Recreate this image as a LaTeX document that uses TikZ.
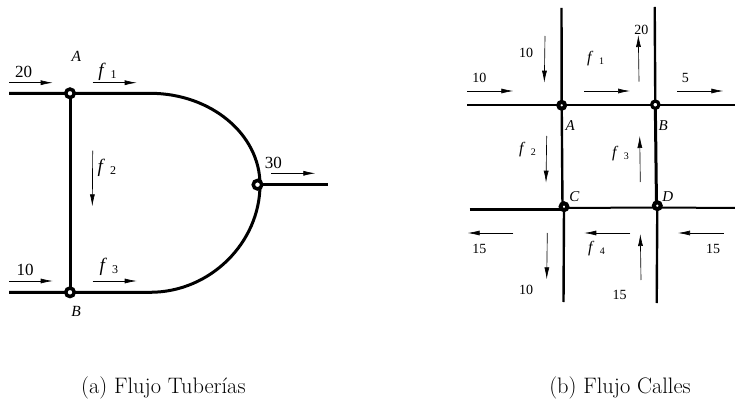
\documentclass[tikz,border=0pt]{standalone}
\usepackage{fontspec}
\setmainfont{Liberation Serif}
\newfontfamily\capfont{Latin Modern Roman}
\usetikzlibrary{arrows.meta}
\newcommand{\flabL}[1]{{\fontsize{19}{20}\selectfont\textit{f}}\hspace{5pt}\raisebox{-2pt}{\fontsize{12}{13}\selectfont #1}}
\newcommand{\flabR}[1]{{\fontsize{16}{17}\selectfont\textit{f}}\hspace{5.5pt}\raisebox{-1.8pt}{\fontsize{10}{11}\selectfont #1}}
\tikzset{
  pipe/.style={line width=3pt},
  street/.style={line width=2.4pt},
  flow/.style={line width=0.65pt,-{Latex[length=12pt,width=5pt]}},
  jopen/.style={circle,draw=black,fill=white,line width=3.5pt,minimum size=8.5pt,inner sep=0pt},
  jopenr/.style={circle,draw=black,fill=white,line width=3.2pt,minimum size=7.3pt,inner sep=0pt},
  jsolid/.style={circle,draw=black,fill=white,line width=4pt,minimum size=6.8pt,inner sep=0pt},
  lt/.style={font=\fontsize{17}{18}\selectfont,inner sep=0pt},
  lti/.style={font=\fontsize{15.5}{17}\selectfont\itshape,inner sep=0pt},
  rt/.style={font=\fontsize{14}{15}\selectfont,inner sep=0pt},
  rti/.style={font=\fontsize{15}{16}\selectfont\itshape,inner sep=0pt},
  flabel/.style={inner sep=0pt},
  captext/.style={font=\capfont\fontsize{22.4}{25}\selectfont,inner sep=0pt,anchor=base}
}
\begin{document}
\begin{tikzpicture}[x=1pt,y=-1pt]
\useasboundingbox (0,0) rectangle (735,403);
% --- left figure ---
\coordinate (l1) at (9,93.3);
\coordinate (l2) at (9,292.3);
\coordinate (p1) at (150,93.3);
\coordinate (p2) at (150,292.3);
\coordinate (e) at (328,184.7);
\coordinate (jc) at (260,184.7);
\draw[pipe] (l1) -- (p1) .. controls (210.8,93.3) and (260,134.2) .. (jc)
  .. controls (260,242) and (210.8,292.3) .. (p2) -- (l2);
\draw[pipe] (70,93.3) -- (70,292.3);
\draw[pipe] (jc) -- (e);
\node[jopen] (A) at (70,93.3) {};
\node[jopen] (B) at (70,292.3) {};
\node[jopen] (J) at (257.5,184.7) {};
\foreach \a/\b/\c/\d in {9/82.7/52.7/82.7, 92.7/82.7/136.7/82.7, 92.7/150.7/92.3/206.3,
  271.3/173.3/315.3/173.3, 9/281/52.7/281, 92.7/281/136.7/281}
  \draw[flow] (\a,\b) -- (\c,\d);
\node[lt] at (23.7,72.3) {20};
\node[lti] at (76.3,56.7) {A};
\node[flabel] at (107.5,71.7) {\flabL{1}};
\node[flabel] at (106.8,168.3) {\flabL{2}};
\node[flabel] at (108.8,267) {\flabL{3}};
\node[lt] at (273.3,163.3) {30};
\node[lt] at (25,270) {10};
\node[lti] at (76,311.7) {B};
\node[captext] at (163.4,393) {(a) Flujo Tuberías};
% --- right figure ---
\coordinate (tA) at (561.5,8);
\coordinate (tB) at (654.7,7);
\coordinate (bC) at (563.5,302);
\coordinate (bD) at (656.7,303);
\coordinate (wT) at (467,105.3);
\coordinate (eT) at (735,105.3);
\coordinate (wB) at (469.5,209.5);
\coordinate (eB) at (735,208);
\draw[street] (tA) -- (561.7,105.3);
\draw[street] (561.7,105.3) -- (562.5,207);
\draw[street] (564,207) -- (bC);
\draw[street] (tB) -- (655.3,104.7);
\draw[pipe] (655.3,104.7) -- (656.5,206);
\draw[street] (657.3,206) -- (bD);
\draw[street] (wT) -- (eT);
\draw[pipe] (wB) -- (564,209.5);
\draw[line width=2pt] (564,208) -- (657.3,207.5);
\draw[line width=2pt] (657.3,207.5) -- (eB);
\node[jsolid] (a) at (561.7,105.3) {};
\node[jopenr] (b) at (655.3,104.7) {};
\node[jsolid] (c) at (564,206.7) {};
\node[jsolid] (d) at (657.3,205.7) {};
\foreach \a/\b/\c/\d in {545/36/544.3/82.7, 467/91/513.3/91, 584/91/630/91, 639/81.7/638.3/35,
  677.3/91/723.3/91, 546.7/136/546/182.7, 640.3/182/639.7/136, 513.3/233/467.7/233,
  630.3/233/584.3/233, 723.7/233/678/233, 547.3/233/546.7/279.3, 641/280/640.3/234}
  \draw[flow] (\a,\b) -- (\c,\d);
\node[rt] at (526,53.3) {10};
\node[rt] at (479.3,78) {10};
\node[rt] at (641.3,30) {20};
\node[rt] at (685.3,78) {5};
\node[rt] at (479.3,248.7) {15};
\node[rt] at (713,248.7) {15};
\node[rt] at (526,290) {10};
\node[rt] at (619.7,295.3) {15};
\node[rti] at (570.3,125.7) {A};
\node[rti] at (663.3,125.3) {B};
\node[rti] at (574.3,196.7) {C};
\node[rti] at (667.7,196.7) {D};
\node[flabel] at (595.6,58.7) {\flabR{1}};
\node[flabel] at (527.5,150) {\flabR{2}};
\node[flabel] at (620.5,153.3) {\flabR{3}};
\node[flabel] at (596.5,248.3) {\flabR{4}};
\node[captext] at (620,393) {(b) Flujo Calles};
\end{tikzpicture}
\end{document}
